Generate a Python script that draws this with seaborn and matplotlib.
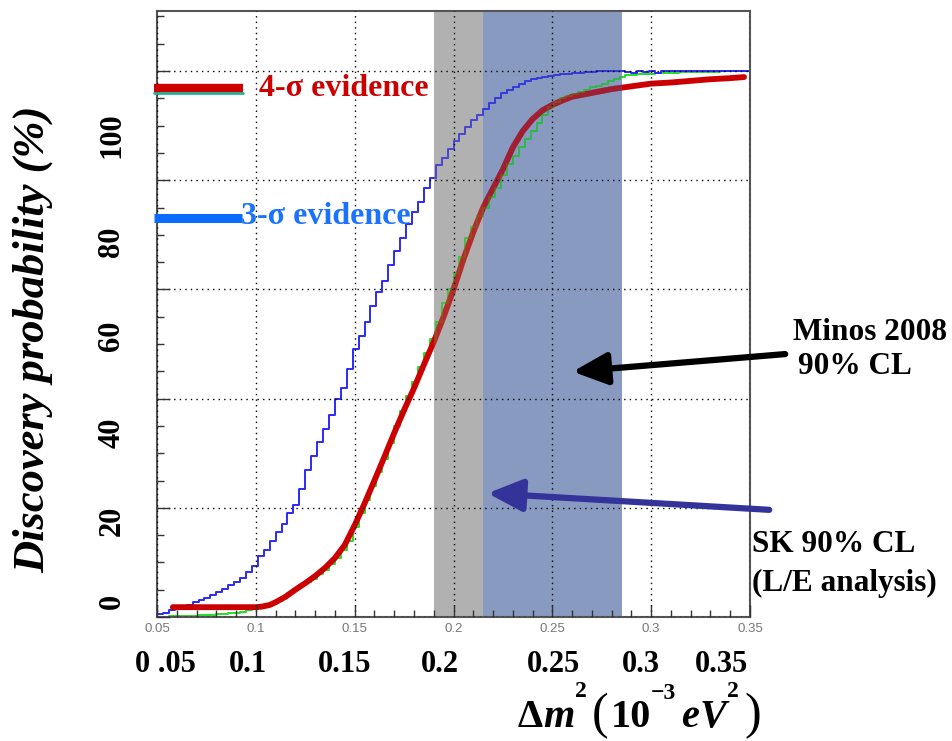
import matplotlib
matplotlib.use("Agg")
import matplotlib.pyplot as plt
import numpy as np
import pandas as pd
import seaborn as sns
from matplotlib.patches import FancyArrowPatch, Rectangle
from matplotlib.ticker import MultipleLocator

# 100 histogram bins between 0.05 and 0.35 (10^-3 eV^2)
n_bins = 100
bin_range = (0.05, 0.35)
bin_edges = np.linspace(*bin_range, n_bins + 1)
bin_centers = (bin_edges[:-1] + bin_edges[1:]) / 2

# blue step histogram (one value per bin)
blue_prob = [
    0.005, 0.008, 0.012, 0.015, 0.018, 0.022, 0.027, 0.031, 0.035, 0.040,
    0.046, 0.052, 0.058, 0.064, 0.072, 0.082, 0.093, 0.112, 0.122, 0.140,
    0.155, 0.170, 0.190, 0.205, 0.235, 0.270, 0.295, 0.320, 0.345, 0.370,
    0.400, 0.420, 0.455, 0.490, 0.515, 0.540, 0.570, 0.595, 0.615, 0.645,
    0.670, 0.695, 0.720, 0.742, 0.760, 0.785, 0.805, 0.828, 0.840, 0.857,
    0.872, 0.885, 0.898, 0.910, 0.920, 0.930, 0.942, 0.951, 0.960, 0.965,
    0.971, 0.977, 0.982, 0.985, 0.988, 0.990, 0.991, 0.993, 0.994, 0.995,
    0.996, 0.997, 0.998, 0.999, 1.000, 1.000, 1.000, 1.000, 1.000, 0.998,
    0.997, 1.000, 0.998, 1.000, 0.997, 1.000, 1.000, 1.000, 1.000, 1.000,
    1.000, 1.000, 1.000, 1.000, 1.000, 1.000, 1.000, 1.000, 1.000, 1.000,
]

# green step histogram
green_prob = [
    0.000, 0.000, 0.001, 0.001, 0.002, 0.002, 0.002, 0.003, 0.003, 0.004,
    0.005, 0.006, 0.007, 0.008, 0.010, 0.012, 0.014, 0.017, 0.020, 0.024,
    0.030, 0.036, 0.044, 0.051, 0.058, 0.064, 0.070, 0.078, 0.087, 0.097,
    0.108, 0.122, 0.140, 0.165, 0.190, 0.215, 0.240, 0.265, 0.290, 0.318,
    0.350, 0.378, 0.405, 0.430, 0.458, 0.483, 0.510, 0.540, 0.575, 0.600,
    0.630, 0.660, 0.695, 0.715, 0.735, 0.750, 0.770, 0.785, 0.810, 0.830,
    0.845, 0.860, 0.875, 0.890, 0.905, 0.920, 0.935, 0.943, 0.950, 0.955,
    0.958, 0.962, 0.966, 0.970, 0.973, 0.977, 0.981, 0.985, 0.989, 0.992,
    0.993, 0.994, 0.995, 0.995, 0.996, 0.996, 0.997, 0.997, 0.998, 0.998,
    0.998, 0.998, 0.999, 0.999, 0.999, 1.000, 1.000, 1.000, 1.000, 1.000,
]

# smooth red curve
red_dm2 = [
    0.058, 0.07, 0.08, 0.09, 0.1, 0.103, 0.107, 0.11, 0.115, 0.12,
    0.125, 0.13, 0.135, 0.14, 0.145, 0.15, 0.155, 0.16, 0.165, 0.17,
    0.175, 0.18, 0.185, 0.19, 0.195, 0.2, 0.205, 0.21, 0.215, 0.22,
    0.225, 0.23, 0.235, 0.24, 0.245, 0.25, 0.255, 0.26, 0.27, 0.28,
    0.29, 0.3, 0.31, 0.32, 0.33, 0.34, 0.347,
]
red_prob = [
    0.018, 0.018, 0.018, 0.018, 0.018, 0.019, 0.022, 0.027, 0.037, 0.050,
    0.062, 0.075, 0.090, 0.108, 0.132, 0.168, 0.208, 0.250, 0.293, 0.337,
    0.379, 0.419, 0.462, 0.504, 0.550, 0.600, 0.655, 0.705, 0.750, 0.785,
    0.820, 0.860, 0.890, 0.912, 0.928, 0.938, 0.946, 0.953, 0.960, 0.967,
    0.972, 0.977, 0.979, 0.982, 0.985, 0.987, 0.989,
]

sk_band = (0.19, 0.215)
minos_band = (0.215, 0.285)

xtick_values = [0.05, 0.1, 0.15, 0.2, 0.25, 0.3, 0.35]
xtick_labels = ["0.05", "0.1", "0.15", "0.2", "0.25", "0.3", "0.35"]
big_xlabels = ["0 .05", "0.1", "0.15", "0.2", "0.25", "0.3", "0.35"]
big_ylabels = ["0", "20", "40", "60", "80", "100"]

W, H = 952, 741
SERIF = "Liberation Serif"


def fpos(x, y):
    """Pixel position (from top-left) to figure fraction."""
    return x / W, 1 - y / H


def draw_curves(ax, alpha, zorder):
    """Draw the two histograms and the fitted curve, return the new lines."""
    n0 = len(ax.lines)
    sns.histplot(data=hist, x="dm2", weights="green", bins=n_bins,
                 binrange=bin_range, element="step", fill=False,
                 color="#22e022", linewidth=1.4, alpha=alpha, ax=ax,
                 zorder=zorder)
    sns.histplot(data=hist, x="dm2", weights="blue", bins=n_bins,
                 binrange=bin_range, element="step", fill=False,
                 color="#2a2af5", linewidth=1.4, alpha=alpha, ax=ax,
                 zorder=zorder + 0.1)
    sns.lineplot(x=red_dm2, y=red_prob, color="#cc0000", linewidth=4.2,
                 sort=False, alpha=alpha, ax=ax, zorder=zorder + 0.2)
    return ax.lines[n0:]


hist = pd.DataFrame({"dm2": bin_centers, "blue": blue_prob, "green": green_prob})

sns.set_theme(style="white")
fig = plt.figure(figsize=(W / 100, H / 100), dpi=100)
ax = fig.add_axes([157 / W, 1 - 617 / H, (750 - 157) / W, (617 - 11) / H])

draw_curves(ax, 1.0, 1.0)
ax.axvspan(*sk_band, color="#888888", alpha=0.65, lw=0, zorder=2)
ax.axvspan(*minos_band, color="#4a64a0", alpha=0.65, lw=0, zorder=2)
# curves show through the shaded bands
band_clip = Rectangle((sk_band[0], 0), minos_band[1] - sk_band[0], 1.2,
                      transform=ax.transData)
for line in draw_curves(ax, 0.5, 2.1):
    line.set_clip_path(band_clip)

ax.set_xlim(0.05, 0.35)
ax.set_ylim(0, 1.11)
ax.set_xlabel("")
ax.set_ylabel("")
ax.set_axisbelow(False)
ax.xaxis.set_major_locator(MultipleLocator(0.05))
ax.xaxis.set_minor_locator(MultipleLocator(0.01))
ax.yaxis.set_major_locator(MultipleLocator(0.2))
ax.yaxis.set_minor_locator(MultipleLocator(0.05))
ax.set_xticks(xtick_values)
ax.set_xticklabels(xtick_labels, fontsize=9.5, color="#777777",
                   family="Liberation Sans")
ax.grid(True, which="major", color="black", linestyle=(0, (1, 3)), linewidth=1.0)
ax.tick_params(which="both", direction="in", bottom=True, left=True, top=False,
               right=False, labelleft=False, color="#333333", width=1.0)
ax.tick_params(which="major", length=9, pad=4)
ax.tick_params(which="minor", length=5)
for sp in ax.spines.values():
    sp.set_color("#555555")
    sp.set_linewidth(1.5)

# legend keys drawn on the left
ax.plot([0.0485, 0.0935], [0.960, 0.960], color="#1fb59a", lw=2, clip_on=False, zorder=3)
ax.plot([0.0485, 0.0935], [0.969, 0.969], color="#cc0000", lw=6, clip_on=False,
        solid_capstyle="butt", zorder=3)
ax.plot([0.0485, 0.0930], [0.731, 0.731], color="#0a6cff", lw=6.5, clip_on=False,
        solid_capstyle="butt", zorder=3)

fig.text(*fpos(259, 88), "4-σ evidence", color="#cc0000", fontsize=23,
         fontweight="bold", family=SERIF, va="center", ha="left")
fig.text(*fpos(241, 217), "3-σ evidence", color="#1a72ff", fontsize=23,
         fontweight="bold", family=SERIF, va="center", ha="left")

# arrows pointing into the allowed bands
ax.add_patch(FancyArrowPatch((0.3692, 0.482), (0.2589, 0.449),
                             arrowstyle="-|>,head_length=1.4,head_width=0.65",
                             mutation_scale=15, lw=4.5, color="black",
                             clip_on=False, zorder=4))
ax.add_patch(FancyArrowPatch((0.3611, 0.196), (0.2159, 0.227),
                             arrowstyle="-|>,head_length=1.4,head_width=0.65",
                             mutation_scale=15, lw=4.5, color="#333399",
                             clip_on=False, zorder=4))

fig.text(*fpos(793, 332), "Minos 2008", fontsize=22.5, fontweight="bold",
         family=SERIF, va="center", ha="left", color="black")
fig.text(*fpos(798, 367), "90% CL", fontsize=22.5, fontweight="bold",
         family=SERIF, va="center", ha="left", color="black")
fig.text(*fpos(752, 545), "SK 90% CL", fontsize=22.5, fontweight="bold",
         family=SERIF, va="center", ha="left", color="black")
fig.text(*fpos(752, 583), "(L/E analysis)", fontsize=22.5, fontweight="bold",
         family=SERIF, va="center", ha="left", color="black")

# slide-level axis labels
for lab, xc in zip(big_xlabels, [165, 248, 345, 440, 554, 641, 721]):
    fig.text(*fpos(xc, 665), lab, fontsize=22, fontweight="bold", family=SERIF,
             va="center", ha="center", color="black")
for lab, yc in zip(big_ylabels, [601, 521, 433, 336, 242, 135]):
    fig.text(*fpos(112, yc), lab, fontsize=22, fontweight="bold", family=SERIF,
             va="center", ha="center", rotation=90, color="black")

fig.text(*fpos(33, 339), "Discovery probability (%)", fontsize=32,
         fontweight="bold", style="italic", family=SERIF, rotation=90,
         va="center", ha="center", color="black")

# x title built piece by piece so the brackets can be taller than the text
title_pieces = [
    ("Δ", 29, "normal", "bold", 0, 0),
    ("m", 29, "italic", "bold", 0, 0),
    ("2", 17, "normal", "bold", -30, 6),
    ("(", 36, "normal", "normal", 1, 2),
    ("10", 29, "normal", "bold", 0, 0),
    ("−3", 17, "normal", "bold", -28, 5),
    ("e", 29, "italic", "bold", 0, 0),
    ("V", 29, "italic", "bold", 0, 1),
    ("2", 17, "normal", "bold", -30, 6),
    (")", 36, "normal", "normal", 1, 0),
]
renderer = fig.canvas.get_renderer()
x_cursor = 518
for txt, size, style, weight, dy, gap in title_pieces:
    t = fig.text(*fpos(x_cursor, 727 + dy), txt, fontsize=size, style=style,
                 fontweight=weight, family=SERIF, va="baseline", ha="left",
                 color="black")
    x_cursor += t.get_window_extent(renderer).width + gap

fig.savefig("out.png", dpi=100)
